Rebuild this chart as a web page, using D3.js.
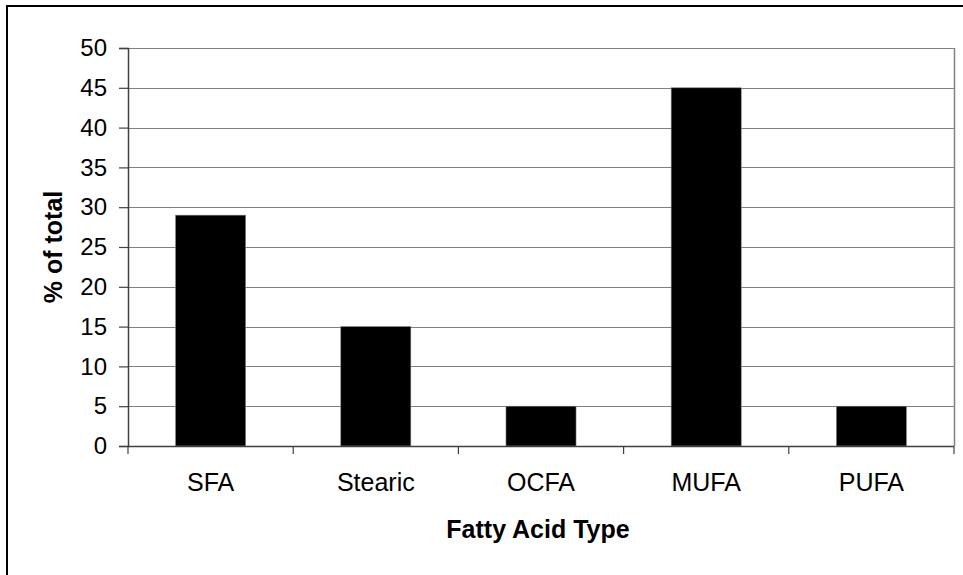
<!DOCTYPE html>
<html>
<head>
<meta charset="utf-8">
<script src="https://cdn.jsdelivr.net/npm/d3@7"></script>
<style>
  html, body { margin: 0; padding: 0; background: #fff; }
  svg { display: block; font-family: "Liberation Sans", Arial, sans-serif; }
</style>
</head>
<body>
<svg id="chart" width="963" height="575"></svg>
<script>
// Fatty acid composition, % of total
const categories = ["SFA", "Stearic", "OCFA", "MUFA", "PUFA"];
const values = [29, 15, 5, 45, 5];
const yTicks = [0, 5, 10, 15, 20, 25, 30, 35, 40, 45, 50];
const xTitle = "Fatty Acid Type";
const yTitle = "% of total";

const svg = d3.select("#chart");
const W = 963, H = 575;
const plot = { left: 128, right: 954, top: 48, bottom: 446 };

// Outer frame (runs off the right and bottom edges)
svg.append("rect")
  .attr("x", 7).attr("y", 6)
  .attr("width", W + 10).attr("height", H + 10)
  .attr("fill", "#fff")
  .attr("stroke", "#000").attr("stroke-width", 2);

const x = d3.scaleBand().domain(categories).range([plot.left, plot.right]).padding(0);
const y = d3.scaleLinear().domain([0, 50]).range([plot.bottom, plot.top]);

// Gridlines
svg.append("g")
  .selectAll("line")
  .data(yTicks.filter(t => t > 0))
  .join("line")
  .attr("x1", plot.left).attr("x2", plot.right)
  .attr("y1", d => Math.round(y(d)) + 0.5).attr("y2", d => Math.round(y(d)) + 0.5)
  .attr("stroke", "#808080").attr("stroke-width", 1);

// Right edge of the plot area
svg.append("line")
  .attr("x1", plot.right + 0.5).attr("x2", plot.right + 0.5)
  .attr("y1", plot.top).attr("y2", plot.bottom)
  .attr("stroke", "#808080").attr("stroke-width", 1.5);

// Bars
const barFrac = 0.424;
svg.append("g")
  .selectAll("rect")
  .data(categories.map((c, i) => ({ c, v: values[i] })))
  .join("rect")
  .attr("x", d => x(d.c) + x.bandwidth() * (1 - barFrac) / 2)
  .attr("width", x.bandwidth() * barFrac)
  .attr("y", d => y(d.v))
  .attr("height", d => y(0) - y(d.v))
  .attr("fill", "#000")
  .attr("stroke", "#808080").attr("stroke-width", 0.6);

// Y axis
const yAxis = d3.axisLeft(y).tickValues(yTicks).tickSize(9).tickPadding(12);
const gy = svg.append("g")
  .attr("transform", `translate(${plot.left},0)`)
  .call(yAxis);
gy.select(".domain").attr("stroke", "#404040").attr("stroke-width", 1.5);
gy.selectAll(".tick line").attr("stroke", "#404040").attr("stroke-width", 1.2);
gy.selectAll(".tick text")
  .attr("font-size", 24).attr("fill", "#000")
  .attr("font-family", "Liberation Sans, Arial, sans-serif");

// X axis: ticks at category boundaries, labels centred under bars
const gx = svg.append("g");
gx.append("line")
  .attr("x1", plot.left).attr("x2", plot.right)
  .attr("y1", plot.bottom + 0.5).attr("y2", plot.bottom + 0.5)
  .attr("stroke", "#404040").attr("stroke-width", 1.5);
const bounds = categories.map(c => x(c)).concat([x(categories[categories.length - 1]) + x.bandwidth()]);
gx.selectAll("line.tk")
  .data(bounds)
  .join("line")
  .attr("class", "tk")
  .attr("x1", d => d).attr("x2", d => d)
  .attr("y1", plot.bottom).attr("y2", plot.bottom + 8)
  .attr("stroke", "#404040").attr("stroke-width", 1.2);
gx.selectAll("text")
  .data(categories)
  .join("text")
  .attr("x", d => x(d) + x.bandwidth() / 2)
  .attr("y", 491)
  .attr("text-anchor", "middle")
  .attr("font-size", 25)
  .attr("fill", "#000")
  .text(d => d);

// Axis titles
svg.append("text")
  .attr("x", 538).attr("y", 538)
  .attr("text-anchor", "middle")
  .attr("font-size", 25).attr("font-weight", "bold")
  .text(xTitle);

svg.append("text")
  .attr("transform", "translate(62,247) rotate(-90)")
  .attr("text-anchor", "middle")
  .attr("font-size", 25).attr("font-weight", "bold")
  .text(yTitle);
</script>
</body>
</html>
